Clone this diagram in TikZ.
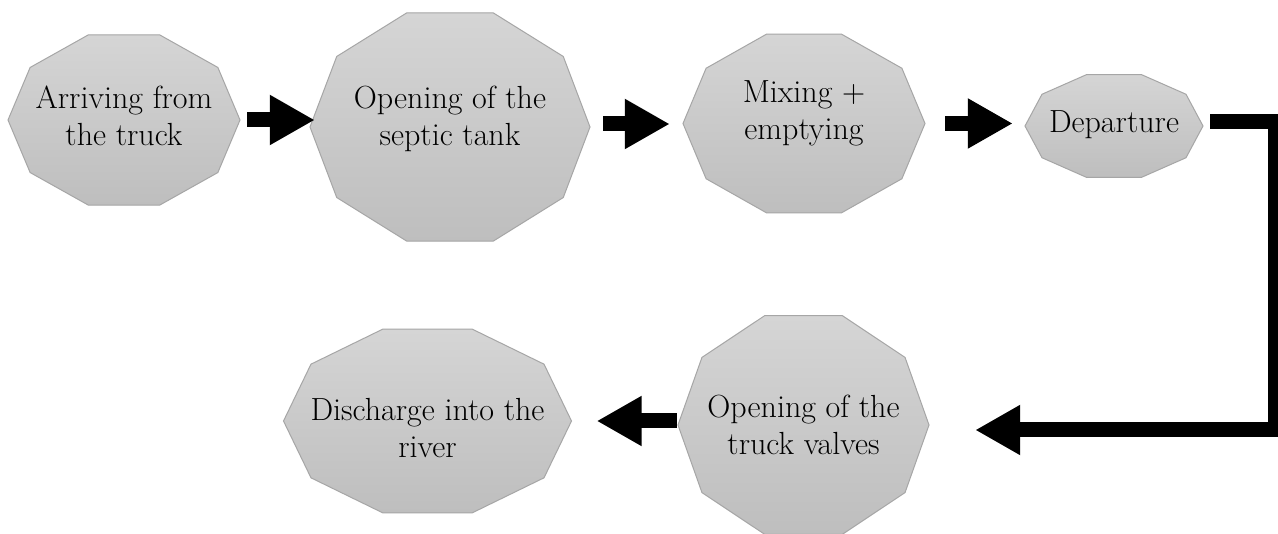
\documentclass[tikz,border=0pt]{standalone}
\usetikzlibrary{arrows.meta,calc}
\definecolor{decatop}{HTML}{D5D5D5}
\definecolor{decabot}{HTML}{BEBEBE}
\definecolor{decaline}{HTML}{A6A6A6}
\tikzset{
  decashape/.style={draw=decaline, line width=1pt, top color=decatop, bottom color=decabot},
  steptext/.style={font=\fontsize{32}{37}\selectfont, align=center, text=black, inner sep=0pt},
  blk/.style={line width=15pt, draw=black, -{Triangle[length=45pt,width=47pt]}},
}
\newcommand\mydecagon[5]{%
  \path[decashape] ({#2+#4},#3) \foreach \a in {36,72,...,324}{ -- ({#2+#4*cos(\a)},{#3+#5*sin(\a)})} -- cycle;
  \node[inner sep=0pt, minimum width={2*#4pt}, minimum height={1.902*#5pt}] (#1) at (#2,#3) {};
}
\begin{document}
\begin{tikzpicture}[x=1pt,y=-1pt]
\useasboundingbox[fill=white] (0,0) rectangle (1278,534);
\mydecagon{n1}{124}{120}{116}{89.4}
\mydecagon{n2}{450}{127}{140}{120}
\mydecagon{n3}{804}{123.5}{121}{94}
\mydecagon{n4}{1114}{126}{89}{54}
\mydecagon{n5}{803.5}{425}{125.5}{115}
\mydecagon{n6}{427.5}{421}{144}{96.7}
\node[steptext] (t1) at (124,116) {Arriving from\\the truck};
\node[steptext] (t2) at (450,119) {Opening of the\\septic tank};
\node[steptext] (t3) at (804,113) {Mixing +\\emptying};
\node[steptext] (t4) at (1114,125) {Departure};
\node[steptext] (t5) at (803.5,425) {Opening of the\\truck valves};
\node[steptext] (t6) at (427.5,428) {Discharge into the\\river};
\coordinate (turn) at (1275,430);
\draw[blk] ([xshift=7pt]n1.east) -- ([xshift=5pt]n1.east -| n2.west);
\draw[blk] ([xshift=13pt,yshift=3pt]n2.east) -- ([xshift=-13pt,yshift=3pt]n2.east -| n3.west);
\draw[blk] ([xshift=20pt]n3.east) -- ([xshift=-12pt]n3.east -| n4.west);
\draw[blk] ([xshift=7pt,yshift=4pt]n4.east) -| (turn) -- ([xshift=46pt]n5.east |- turn);
\draw[blk] ([xshift=-1pt,yshift=4pt]n5.west) -- ([xshift=25pt]n6.east);
\end{tikzpicture}
\end{document}
